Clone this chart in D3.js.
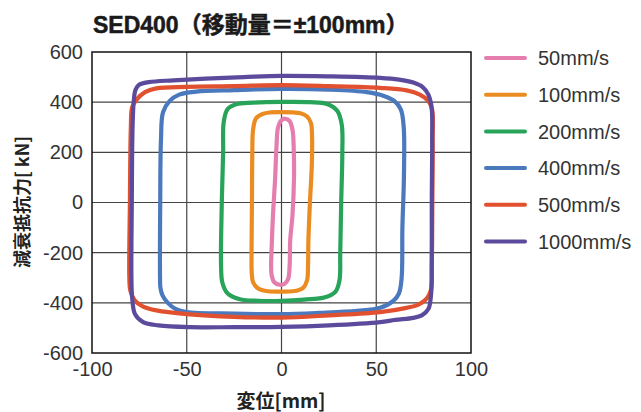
<!DOCTYPE html>
<html>
<head>
<meta charset="utf-8">
<script src="https://cdn.jsdelivr.net/npm/d3@7/dist/d3.min.js"></script>
<style>
  html, body { margin: 0; padding: 0; background: #fff; }
  svg { display: block; }
  text { fill: #333; }
</style>
</head>
<body>
<svg id="chart" width="641" height="412"></svg>
<script>
// Axis ticks
const xTicks = [-100, -50, 0, 50, 100];
const yTicks = [-600, -400, -200, 0, 200, 400, 600];

// Series: piston speed labels and line colours
const seriesNames = ["50mm/s", "100mm/s", "200mm/s", "400mm/s", "500mm/s", "1000mm/s"];
const seriesColors = ["#e57eae", "#eb8c23", "#27a35a", "#4b79be", "#e2512f", "#5c4b9c"];

// Hysteresis loops: [displacement mm, damping force kN], traced clockwise
const loop50 = [
  [-5.3, -200], [-4.5, -50], [-3.4, 90], [-2.6, 230], [-1.8, 300], [0, 328], [2, 334],
  [4.2, 325], [5.8, 290], [6.5, 200], [6.6, 100], [5.8, -50], [4.6, -150], [4.3, -250],
  [3.5, -305], [1.5, -325], [-1, -328], [-3.8, -318], [-5.2, -290], [-5.5, -250]
];
const loop100 = [
  [-15.8, -200], [-15.6, 0], [-15.4, 200], [-15, 290], [-13.5, 335], [-10, 353], [-6, 359],
  [0, 360], [6, 359], [10, 356], [13.5, 343], [15.6, 315], [16.1, 270], [16, 150], [15, 0],
  [14.2, -150], [14, -250], [13.5, -310], [11.5, -340], [8, -352], [0, -355], [-8, -353],
  [-12.5, -342], [-15, -318], [-15.7, -280]
];
const loop200 = [
  [-31.9, -250], [-31.5, 0], [-30.8, 200], [-30.5, 320], [-28.5, 372], [-24, 392], [-15, 398],
  [0, 401], [15, 400], [24, 393], [29.5, 365], [31.8, 310], [32.1, 200], [31.5, 0], [31, -200],
  [30.6, -310], [28.5, -355], [23, -378], [12, -387], [0, -392], [-12, -392], [-22, -386],
  [-28.5, -362], [-31.2, -320]
];
const loop400 = [
  [-64.1, -300], [-64, 0], [-63.6, 250], [-62.5, 360], [-59, 405], [-54, 430], [-45, 442],
  [-25, 448], [0, 453], [25, 450], [45, 440], [54, 425], [59.5, 405], [63, 370], [64.5, 300],
  [64.6, 100], [63.8, -100], [63.4, -300], [62, -362], [59, -392], [52, -420], [40, -432],
  [20, -440], [0, -445], [-25, -443], [-50, -437], [-56, -424], [-60, -400], [-62.8, -370],
  [-63.9, -340]
];
const loop500 = [
  [-80.3, -300], [-80, 0], [-79.5, 300], [-78.8, 380], [-76.5, 410], [-72, 440], [-66, 455],
  [-50, 461], [-25, 464], [0, 468], [25, 464], [52, 457], [66, 447], [73, 430], [77.5, 405],
  [79.5, 370], [79.8, 250], [79.6, 0], [79.3, -250], [78.8, -350], [76.6, -383], [72, -408],
  [66, -420], [52, -437], [25, -450], [0, -459], [-25, -456], [-50, -445], [-66, -430],
  [-73, -415], [-77.5, -390], [-79.8, -350]
];
const loop1000 = [
  [-79.2, -300], [-79, 0], [-78.6, 300], [-78, 400], [-77, 450], [-75, 470], [-70, 480],
  [-57, 487], [-40, 494], [-20, 500], [0, 505], [25, 503], [52, 497], [62, 490], [69.6, 478],
  [74.5, 460], [77.5, 430], [79.2, 380], [79.5, 250], [79.3, 0], [79.3, -250], [79, -360],
  [77.5, -425], [74, -450], [69.6, -460], [60, -468], [52, -477], [25, -490], [0, -496],
  [-25, -497], [-48, -497], [-65, -490], [-73, -477], [-77.3, -445], [-78.8, -380]
];
const loops = [loop50, loop100, loop200, loop400, loop500, loop1000];

const svg = d3.select("#chart");
const fontLatin = "'Liberation Sans', Arial, 'Noto Sans CJK JP', sans-serif";

const x = d3.scaleLinear().domain([-100, 100]).range([92, 471]);
const y = d3.scaleLinear().domain([-600, 600]).range([353, 52]);

// Grid
const grid = svg.append("g").attr("stroke", "#444").attr("stroke-width", 1.2);
grid.selectAll("line.vx").data(xTicks.slice(1, -1)).join("line")
  .attr("x1", d => x(d)).attr("x2", d => x(d)).attr("y1", y(600)).attr("y2", y(-600));
grid.selectAll("line.hy").data(yTicks.slice(1, -1)).join("line")
  .attr("y1", d => y(d)).attr("y2", d => y(d)).attr("x1", x(-100)).attr("x2", x(100));

// Loops
const line = d3.line()
  .x(d => x(d[0])).y(d => y(d[1]))
  .curve(d3.curveCatmullRomClosed.alpha(0.5));

svg.append("g").selectAll("path").data(loops).join("path")
  .attr("d", line)
  .attr("fill", "none")
  .attr("stroke", (d, i) => seriesColors[i])
  .attr("stroke-width", 4.2)
  .attr("stroke-linejoin", "round");

// Frame
svg.append("rect")
  .attr("x", x(-100)).attr("y", y(600))
  .attr("width", x(100) - x(-100)).attr("height", y(-600) - y(600))
  .attr("fill", "none").attr("stroke", "#111").attr("stroke-width", 1.5);

// Axes
const fmt = d => String(d);
const xAxis = svg.append("g")
  .attr("transform", `translate(0,${y(-600)})`)
  .call(d3.axisBottom(x).tickValues(xTicks).tickSize(0).tickPadding(9).tickFormat(fmt));
const yAxis = svg.append("g")
  .attr("transform", `translate(${x(-100)},0)`)
  .call(d3.axisLeft(y).tickValues(yTicks).tickSize(0).tickPadding(9).tickFormat(fmt));
[xAxis, yAxis].forEach(g => {
  g.select(".domain").remove();
  g.selectAll("text").attr("font-family", fontLatin).attr("font-size", 20).attr("fill", "#333");
});

// Title
svg.append("text")
  .attr("x", 93).attr("y", 33)
  .attr("font-family", fontLatin).attr("font-weight", 700).attr("font-size", 23)
  .style("fill", "#1a1a1a")
  .style("stroke", "#1a1a1a").style("stroke-width", 0.5)
  .text("SED400（移動量＝±100mm）");

// Axis titles
svg.append("text")
  .attr("x", 281).attr("y", 408)
  .attr("text-anchor", "middle")
  .attr("font-family", "'Noto Sans CJK JP', sans-serif").attr("font-weight", 700).attr("font-size", 19)
  .style("fill", "#222")
  .text("変位[mm]");
svg.append("text")
  .attr("transform", "translate(29,202) rotate(-90)")
  .attr("text-anchor", "middle")
  .attr("font-family", "'Noto Sans CJK JP', sans-serif").attr("font-weight", 700).attr("font-size", 18)
  .style("fill", "#222")
  .text("減衰抵抗力[ kN]");

// Legend
const legend = svg.append("g").selectAll("g").data(seriesNames).join("g")
  .attr("transform", (d, i) => `translate(0,${58 + i * 36.7})`);
legend.append("line")
  .attr("x1", 486).attr("x2", 525)
  .attr("stroke", (d, i) => seriesColors[i])
  .attr("stroke-width", 4).attr("stroke-linecap", "round");
legend.append("text")
  .attr("x", 538).attr("dy", "0.36em")
  .attr("font-family", fontLatin).attr("font-size", 20)
  .text(d => d);
</script>
</body>
</html>
